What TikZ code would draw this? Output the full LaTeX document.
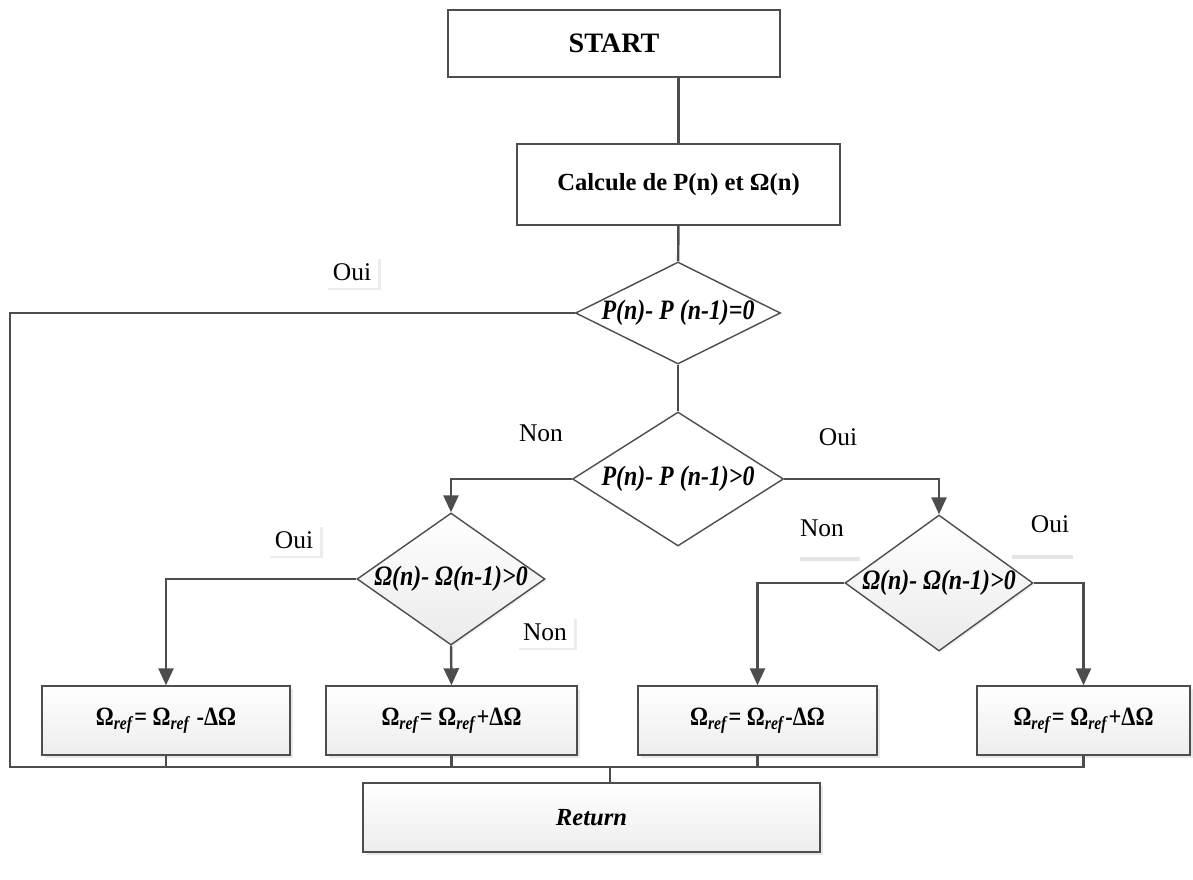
\documentclass[tikz,border=0pt]{standalone}
\usepackage{fontspec}
\setmainfont{Liberation Serif}
\newfontfamily\narrowserif[FakeStretch=0.85]{Liberation Serif}
\usetikzlibrary{positioning, calc, arrows.meta, shapes.geometric, shadows}
\definecolor{flowgray}{HTML}{4D4D4D}
\tikzset{
  % Flowchart blocks
  procbox/.style  = { draw=flowgray, thick, fill=white, align=center,
                       font=\fontsize{14}{16}\selectfont\bfseries },
  shadebox/.style = { procbox, top color=white, bottom color=gray!14,
                       drop shadow={shadow xshift=1.5pt, shadow yshift=-1.5pt, fill=gray!35},
                       minimum height=1.38cm },
  decbox/.style   = { draw=flowgray, thick, diamond, inner sep=0, fill=white },
  decshade/.style = { decbox, top color=white, bottom color=gray!16,
                       drop shadow={shadow xshift=1pt, shadow yshift=-1pt, fill=gray!25} },
  dectext/.style  = { font=\narrowserif\fontsize{16}{18}\selectfont\bfseries\itshape, inner sep=0 },
  % Connectors and answers
  flowline/.style  = { draw=flowgray, line width=1.4pt },
  flowarrow/.style = { flowline, -{Triangle[length=3.4mm, width=3mm]} },
  answer/.style    = { font=\fontsize{14.5}{17}\selectfont },
  answerbox/.style = { answer, fill=white, inner sep=4pt,
                       drop shadow={shadow xshift=1.5pt, shadow yshift=-1.5pt, fill=gray!30} },
  answerbar/.style = { gray!20, line width=2.5pt }
}
\newcommand{\omref}{Ω\textsubscript{\textit{ref}}}

\begin{document}
\begin{tikzpicture}
  \useasboundingbox (0,0) rectangle (23.86,-17.6);

  \node[procbox, minimum width=6.64cm, minimum height=1.34cm,
        font=\fontsize{16}{18}\selectfont\bfseries] (start) at (12.28,-0.87) {START};
  \node[procbox, minimum width=6.46cm, minimum height=1.62cm] (calc) at (13.57,-3.69)
        {Calcule de P(n) et Ω(n)};

  \node[decbox, minimum width=4.1cm, minimum height=2.04cm,
        label={[dectext]center:{P(n)- P (n-1)=0}}] (deczero) at (13.56,-6.26) {};
  \node[decbox, minimum width=4.22cm, minimum height=2.68cm,
        label={[dectext]center:{P(n)- P (n-1)>0}}] (decpos) at (13.56,-9.58) {};
  \node[decshade, minimum width=3.76cm, minimum height=2.64cm,
        label={[dectext]center:{Ω(n)- Ω(n-1)>0}}] (decleft) at (9.02,-11.58) {};
  \node[decshade, minimum width=3.76cm, minimum height=2.72cm,
        label={[dectext]center:{Ω(n)- Ω(n-1)>0}}] (decright) at (18.78,-11.66) {};

  \node[shadebox, minimum width=4.96cm, font=\narrowserif\fontsize{15}{17}\selectfont\bfseries]
        (decA) at (3.32,-14.41) {\omref= \omref{} -ΔΩ};
  \node[shadebox, minimum width=5.02cm, font=\narrowserif\fontsize{15}{17}\selectfont\bfseries]
        (incA) at (9.03,-14.41) {\omref= \omref+ΔΩ};
  \node[shadebox, minimum width=4.78cm, font=\narrowserif\fontsize{15}{17}\selectfont\bfseries]
        (decB) at (15.15,-14.41) {\omref= \omref-ΔΩ};
  \node[shadebox, minimum width=4.26cm, font=\narrowserif\fontsize{15}{17}\selectfont\bfseries]
        (incB) at (21.67,-14.41) {\omref= \omref+ΔΩ};

  \node[shadebox, minimum width=9.14cm, font=\fontsize{14}{16}\selectfont\bfseries\itshape]
        (ret) at (11.83,-16.35) {Return};

  \coordinate (busL) at (0.2,-15.34);
  \coordinate (join) at (12.2,-15.34);

  % answers
  \node[answerbox] (ouiZero) at (7.04,-5.44) {Oui};
  \node[answer] (nonPos) at (10.82,-8.66) {Non};
  \node[answer] (ouiPos) at (16.76,-8.74) {Oui};
  \node[answerbox] (ouiLeft) at (5.88,-10.8) {Oui};
  \node[answerbox] (nonLeft) at (10.9,-12.64) {Non};
  \node[answer] (nonRight) at (16.44,-10.56) {Non};
  \node[answer] (ouiRight) at (21.0,-10.48) {Oui};
  \draw[answerbar] ([xshift=-0.44cm, yshift=-0.62cm]nonRight.center) -- ++(1.2,0);
  \draw[answerbar] ([xshift=-0.76cm, yshift=-0.66cm]ouiRight.center) -- ++(1.22,0);

  \draw[flowline] (start.south -| calc.north) -- (calc.north);
  \draw[flowline] (calc) -- (deczero);
  \draw[flowline] (deczero) -- (decpos);
  \draw[flowline] (deczero.west) -| (busL) -| (incB.south);
  \draw[flowarrow] (decpos.west) -| (decleft.north);
  \draw[flowarrow] (decpos.east) -| (decright.north);
  \draw[flowarrow] (decleft.west) -| (decA.north);
  \draw[flowarrow] (decleft.south) -- (incA.north);
  \draw[flowarrow] (decright.west) -| (decB.north);
  \draw[flowarrow] (decright.east) -| (incB.north);
  \foreach \b in {decA, incA, decB}
    \draw[flowline] (\b.south) -- (\b.south |- busL);
  \draw[flowline] (join) -- (join |- ret.north);

\end{tikzpicture}
\end{document}
